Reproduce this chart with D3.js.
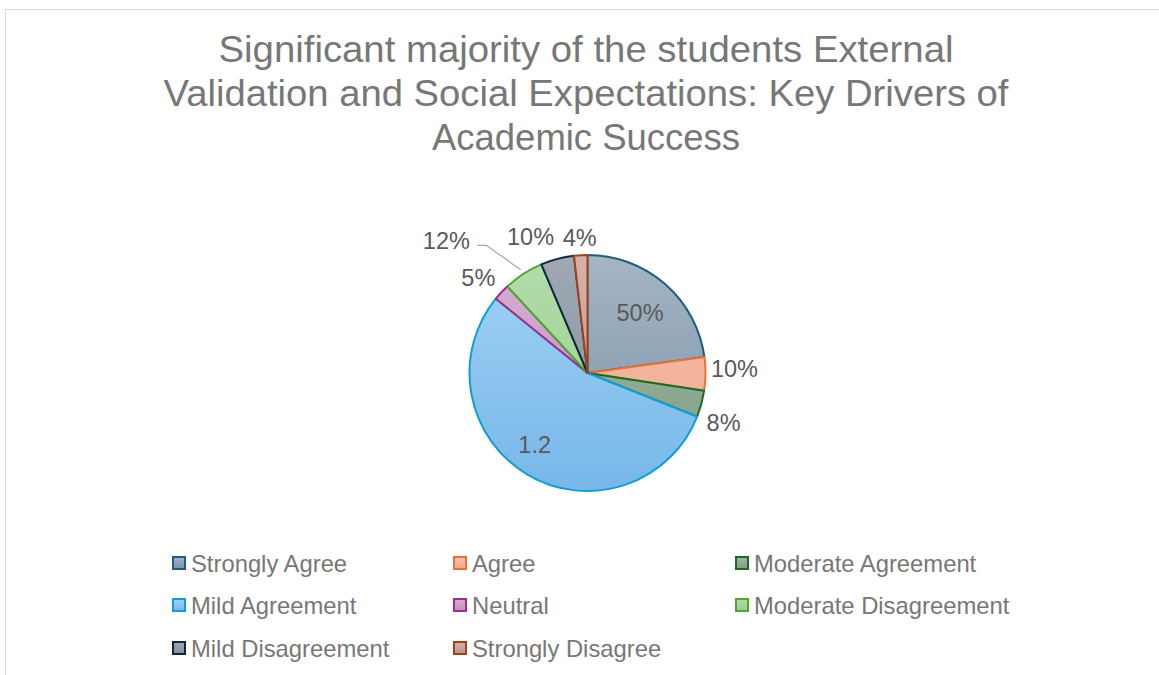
<!DOCTYPE html>
<html>
<head>
<meta charset="utf-8">
<script src="https://cdn.jsdelivr.net/npm/d3@7"></script>
<style>
  html, body { margin: 0; padding: 0; background: #ffffff; }
  svg { display: block; font-family: "Liberation Sans", Arial, sans-serif; }
</style>
</head>
<body>
<svg id="chart" width="1159" height="675"></svg>
<script>
// Survey responses
const categories = [
  "Strongly Agree", "Agree", "Moderate Agreement", "Mild Agreement",
  "Neutral", "Moderate Disagreement", "Mild Disagreement", "Strongly Disagree"
];
const values = [0.5, 0.1, 0.08, 1.2, 0.05, 0.12, 0.1, 0.04];
// Data label text as shown on each slice
const valueLabels = ["50%", "10%", "8%", "1.2", "5%", "12%", "10%", "4%"];

const titleLines = [
  "Significant majority of the students External",
  "Validation and Social Expectations: Key Drivers of",
  "Academic Success"
];

// Slice styling: gradient top/bottom fills and outline colours
const fillTop    = ["#a4b5c4", "#f6c2ad", "#a0b8a3", "#a2d2f6", "#d4b0d0", "#b3dcab", "#9ea9b4", "#d3b1aa"];
const fillBottom = ["#7b91a6", "#efa58a", "#7f9c84", "#76b7e8", "#c08fbb", "#98cc8c", "#848f9b", "#bf938b"];
const strokes    = ["#1b5e80", "#e97132", "#196b24", "#0f9ed5", "#a02b93", "#4ea72e", "#0e2841", "#a0431a"];

const svg = d3.select("#chart");
const W = 1159, H = 675;

// Chart area frame
svg.append("rect")
  .attr("x", 5.5).attr("y", 9.5)
  .attr("width", W + 10).attr("height", H + 10)
  .attr("fill", "#ffffff")
  .attr("stroke", "#d9d9d9").attr("stroke-width", 1);

// Title
const titleWidths = [735, 845, 308];
svg.append("g").selectAll("text")
  .data(titleLines)
  .join("text")
  .attr("x", 586)
  .attr("y", (d, i) => 62 + i * 44)
  .attr("text-anchor", "middle")
  .attr("font-size", 36)
  .attr("fill", "#777777")
  .attr("textLength", (d, i) => titleWidths[i])
  .attr("lengthAdjust", "spacingAndGlyphs")
  .text(d => d);

// Pie
const cx = 587.5, cy = 373, R = 118;
const pie = d3.pie().sort(null).value(d => d)(values);
const arc = d3.arc().innerRadius(0).outerRadius(R);

const defs = svg.append("defs");
categories.forEach((c, i) => {
  const g = defs.append("linearGradient")
    .attr("id", "grad" + i)
    .attr("gradientUnits", "userSpaceOnUse")
    .attr("x1", 0).attr("y1", -R).attr("x2", 0).attr("y2", R);
  g.append("stop").attr("offset", "0%").attr("stop-color", fillTop[i]);
  g.append("stop").attr("offset", "100%").attr("stop-color", fillBottom[i]);
  const lg = defs.append("linearGradient")
    .attr("id", "lgrad" + i)
    .attr("x1", 0).attr("y1", 0).attr("x2", 0).attr("y2", 1);
  lg.append("stop").attr("offset", "0%").attr("stop-color", fillTop[i]);
  lg.append("stop").attr("offset", "100%").attr("stop-color", fillBottom[i]);
});

const pieG = svg.append("g").attr("transform", `translate(${cx},${cy})`);
pieG.selectAll("path")
  .data(pie)
  .join("path")
  .attr("d", arc)
  .attr("fill", (d, i) => `url(#grad${i})`)
  .attr("stroke", (d, i) => strokes[i])
  .attr("stroke-width", 2)
  .attr("stroke-linejoin", "round");

// Data labels: inside for large slices, outside otherwise
const labelRadius = [80, 147, 145, 89, 145, 147, 147, 135];
const labelAngleShift = [0, -2, 5, 6, -2, 0, -8, 0];
const movedLabel = 5;               // label dragged away with a leader line
const movedPos = { r: 193, a: 313 };

function polar(r, deg) {
  const a = deg * Math.PI / 180;
  return [r * Math.sin(a), -r * Math.cos(a)];
}

pie.forEach((d, i) => {
  const mid = (d.startAngle + d.endAngle) / 2 * 180 / Math.PI;
  let pos;
  if (i === movedLabel) {
    pos = polar(movedPos.r, movedPos.a);
    const edge = polar(R + 5, mid);
    pieG.append("polyline")
      .attr("points", [[pos[0] + 31, pos[1] + 4], [pos[0] + 40, pos[1] + 4], edge].map(p => p.join(",")).join(" "))
      .attr("fill", "none")
      .attr("stroke", "#a6a6a6")
      .attr("stroke-width", 1.2);
  } else {
    pos = polar(labelRadius[i], mid + labelAngleShift[i]);
  }
  pieG.append("text")
    .attr("x", pos[0]).attr("y", pos[1])
    .attr("text-anchor", "middle")
    .attr("dominant-baseline", "central")
    .attr("font-size", 23.5)
    .attr("fill", "#595959")
    .text(valueLabels[i]);
});

// Legend, three columns
const colX = [172, 453, 735];
const rowY = [563, 605, 648];
const legend = svg.append("g").selectAll("g")
  .data(categories)
  .join("g")
  .attr("transform", (d, i) => `translate(${colX[i % 3]},${rowY[Math.floor(i / 3)]})`);
legend.append("rect")
  .attr("x", 1).attr("y", -6)
  .attr("width", 12).attr("height", 12)
  .attr("fill", (d, i) => `url(#lgrad${i})`)
  .attr("stroke", (d, i) => strokes[i])
  .attr("stroke-width", 2);
legend.append("text")
  .attr("x", 19).attr("y", 0)
  .attr("dominant-baseline", "central")
  .attr("font-size", 23.8)
  .attr("fill", "#777777")
  .text(d => d);
</script>
</body>
</html>
